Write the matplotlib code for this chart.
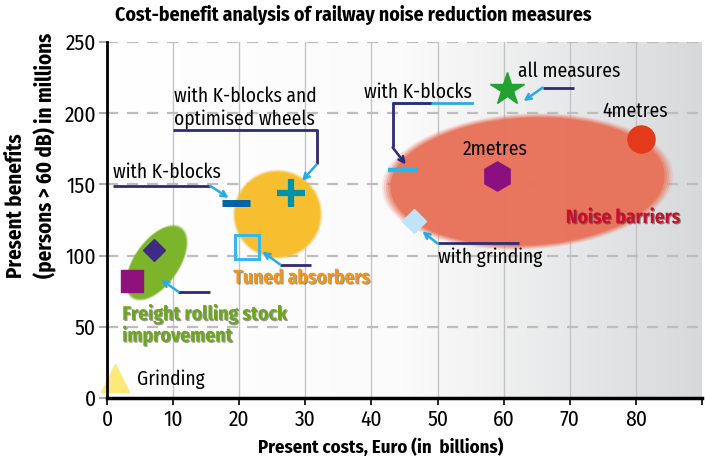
import numpy as np
import matplotlib
matplotlib.use("Agg")
import matplotlib.pyplot as plt
from matplotlib.colors import LinearSegmentedColormap
from matplotlib.patches import Polygon
import matplotlib.patheffects as pe
from matplotlib import font_manager

names = {f.name for f in font_manager.fontManager.ttflist}
candidates = ['Fira Sans Condensed', 'Roboto Condensed', 'PT Sans Narrow',
              'Liberation Sans Narrow', 'Open Sans Condensed', 'Encode Sans Condensed']
FONT = next((c for c in candidates if c in names), 'DejaVu Sans')
plt.rcParams['font.family'] = [FONT, 'DejaVu Sans']

# ---- data (costs in billion Euro, benefits in millions) ----
grinding = (1.2, 14)
freight_square = (3.8, 82)
freight_diamond = (7.1, 104)
kblocks_minus = (19.5, 137)
kblocks_wheels_plus = (27.9, 144)
tuned_square = (21.2, 106)
barrier_kblocks = (44.8, 160)
barrier_grinding = (46.4, 124)
barrier_2m = (59.0, 156)
barrier_4m = (80.8, 182)
all_measures = (60.5, 217)

# group areas: centre, semi-axes (px), angle (deg)
green_area = ((7.5, 95), 44, 23, 55)
yellow_area = ((25.8, 129), 45, 45, 0)
red_area = ((63.6, 152), 146, 68, 3)

xticks = [0, 10, 20, 30, 40, 50, 60, 70, 80]
yticks = [0, 50, 100, 150, 200, 250]

W, H = 705, 467
fig = plt.figure(figsize=(W / 100, H / 100), dpi=100)
L, B, R, T = 107, 398, 702, 42
ax = fig.add_axes([L / W, 1 - B / H, (R - L) / W, (B - T) / H])
ax.set_xlim(0, 90)
ax.set_ylim(0, 250)
sx = (R - L) / 90
sy = (B - T) / 250

# background gradient
bg = LinearSegmentedColormap.from_list('bg', ['#ffffff', '#fbfbfb', '#d8d9db'])
ax.imshow(np.linspace(0, 1, 256).reshape(1, -1), extent=[0, 90, 0, 250],
          aspect='auto', cmap=bg, zorder=0)

for x in range(10, 90, 10):
    ax.axvline(x, color='#c4c4c4', lw=1, zorder=1)
for y in yticks[1:]:
    ax.axhline(y, color='#bdbdbd', lw=1.6, ls=(0, (5, 4)), zorder=1)


def soft_ellipse(area, color, alpha=1.0):
    (cx, cy), a, b, ang = area
    t = np.linspace(0, 2 * np.pi, 200)
    th = np.radians(ang)
    for s, al in [(1.0, 0.15), (0.985, 0.25), (0.97, 0.35), (0.955, 0.5), (0.94, 1.0)]:
        u = a * s * np.cos(t)
        v = b * s * np.sin(t)
        px = u * np.cos(th) - v * np.sin(th)
        py = u * np.sin(th) + v * np.cos(th)
        pts = np.column_stack([cx + px / sx, cy + py / sy])
        ax.add_patch(Polygon(pts, closed=True, fc=color, ec='none',
                             alpha=al * alpha, zorder=2))


soft_ellipse(green_area, '#7db52a')
soft_ellipse(yellow_area, '#f7bf2f')
soft_ellipse(red_area, '#e8735b', 0.92)

# markers
ax.plot(*grinding, marker='^', ms=20, color='#fde97a', zorder=5, clip_on=False)
ax.plot(*freight_square, marker='s', ms=15.5, color='#8e1279', zorder=5)
ax.plot(*freight_diamond, marker='D', ms=11, color='#3f2a85', zorder=5)
ax.plot(*kblocks_minus, marker='_', ms=20, mew=5, color='#0062a8', zorder=5)
ax.plot(*kblocks_wheels_plus, marker='+', ms=20, mew=4.5, color='#0092a6', zorder=5)
ax.plot(*tuned_square, marker='s', ms=17, mfc='none', mec='#36b8e8', mew=2.2, zorder=5)
ax.plot(*barrier_kblocks, marker='_', ms=21, mew=3.2, color='#2db6e4', zorder=5)
ax.plot(*barrier_grinding, marker='D', ms=12.5, color='#bfe3f7', zorder=5)
ax.plot(*barrier_2m, marker='h', ms=21, color='#8a1080', zorder=5)
ax.plot(*barrier_4m, marker='o', ms=19.5, color='#e23a1a', zorder=5)
ax.plot(*all_measures, marker='*', ms=25, color='#22a22e', zorder=5)

NAVY = '#2d2a78'
CYAN = '#2aaae2'


def connector(path, end, head=CYAN):
    xs, ys = zip(*path)
    ax.plot(xs, ys, color=NAVY, lw=2, zorder=4, solid_capstyle='butt')
    ax.annotate('', xy=end, xytext=path[-1], zorder=4,
                arrowprops=dict(arrowstyle='->', color=head, lw=1.8,
                                shrinkA=0, shrinkB=0))


connector([(0.9, 149), (15.6, 149)], (18.4, 140.5))
connector([(10.0, 188), (31.7, 188), (31.7, 164)], (29.5, 152.5))
connector([(30.9, 93.7), (26.2, 93.7)], (23.5, 102.8))
connector([(15.6, 74.6), (10.8, 74.6)], (8.2, 83))
ax.plot([43.2, 55.2], [207, 207], color=CYAN, lw=2, zorder=4)
connector([(49, 207), (43.2, 207), (43.2, 176)], (45.2, 164), head=NAVY)
connector([(70.6, 218), (65.9, 218)], (63.0, 208.5))
connector([(62.3, 108.5), (50.0, 108.5)], (47.7, 117))

# labels
fs = 14
ax.text(0.9, 158.5, 'with K-blocks', fontsize=fs, va='center', zorder=6)
ax.text(10.2, 204, 'with K-blocks and\noptimised wheels', fontsize=fs,
        va='center', linespacing=1.2, zorder=6)
ax.text(4.5, 13.4, 'Grinding', fontsize=fs, va='center', zorder=6)
ax.text(38.8, 215, 'with K-blocks', fontsize=fs, va='center', zorder=6)
ax.text(62.1, 229.6, 'all measures', fontsize=fs, va='center', zorder=6)
ax.text(75.0, 201.4, '4metres', fontsize=fs, va='center', zorder=6)
ax.text(53.8, 174.6, '2metres', fontsize=fs, va='center', zorder=6)
ax.text(50.0, 98.6, 'with grinding', fontsize=fs, va='center', zorder=6)

shadow = [pe.SimplePatchShadow(offset=(0.8, -0.8), shadow_rgbFace='#333333', alpha=0.5),
          pe.Normal()]
ax.text(19.1, 84.5, 'Tuned absorbers', fontsize=14, fontweight='bold',
        color='#f0961a', va='center', path_effects=shadow, zorder=6)
ax.text(2.3, 51.4, 'Freight rolling stock\nimprovement', fontsize=14.2,
        fontweight='bold', color='#6ea51e', va='center', linespacing=1.1,
        path_effects=shadow, zorder=6)
ax.text(69.4, 126.8, 'Noise barriers', fontsize=14, fontweight='bold',
        color='#c8102e', va='center', path_effects=shadow, zorder=6)

# axes styling
for s in ['top', 'right']:
    ax.spines[s].set_visible(False)
ax.spines['left'].set_linewidth(2)
ax.spines['bottom'].set_linewidth(2.5)
ax.spines['left'].set_zorder(7)
ax.spines['bottom'].set_zorder(7)
ax.set_xticks(xticks + [90])
ax.set_xticklabels([str(v) for v in xticks] + [''])
ax.set_yticks(yticks)
ax.tick_params(axis='x', length=5, width=1.2, labelsize=15.5, pad=3)
ax.tick_params(axis='y', length=6, width=1.2, color='#9a9a9a', labelsize=15.5, pad=2)

fig.text(0.501, 0.968, 'Cost-benefit analysis of railway noise reduction measures',
         fontsize=14.2, fontweight='bold', ha='center', va='center')
fig.text(0.540, 0.043, 'Present costs, Euro (in  billions)', fontsize=13.5,
         fontweight='bold', ha='center', va='center')
fig.text(0.044, 0.405, 'Present benefits\n(persons > 60 dB) in millions',
         fontsize=15, fontweight='bold', rotation=90, ha='center', va='bottom',
         multialignment='left', linespacing=1.35)

fig.savefig('out.png', dpi=100)
